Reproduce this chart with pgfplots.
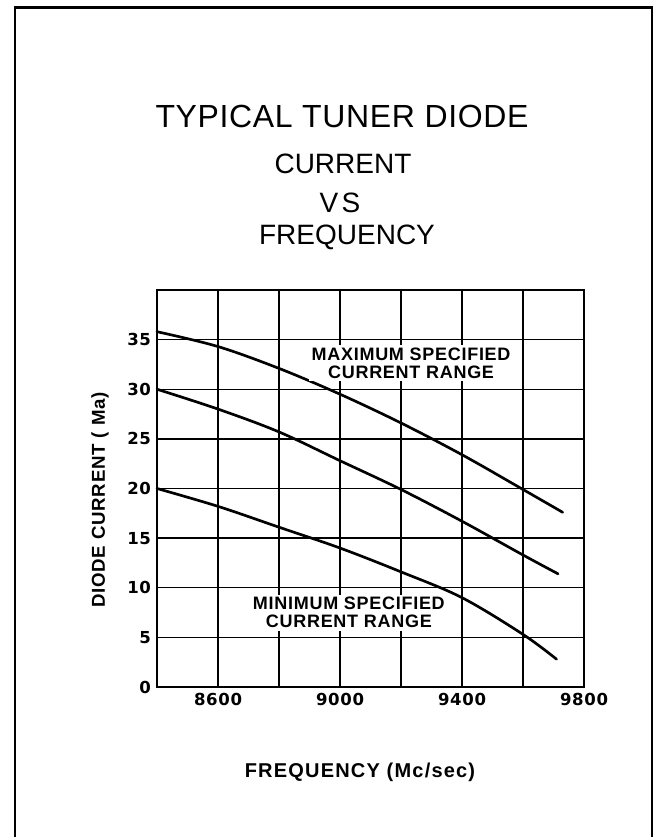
\documentclass[border=0pt]{standalone}
\usepackage{pgfplots}
\pgfplotsset{compat=1.18}
\usepackage{fontspec}
\setmainfont{Liberation Sans}
\newfontfamily\tickfont{DejaVu Sans}

\begin{document}
\begin{tikzpicture}[x=0.75pt,y=0.75pt]
\useasboundingbox (0,0) rectangle (663,837);
% outer frame (open at the bottom)
\draw[line width=1.8pt] (15,-5) -- (15,829.5) -- (652,829.5) -- (652,-5);
% titles
\node[anchor=base,inner sep=0pt] at (342,837-128) {\fontsize{24}{28}\selectfont\addfontfeatures{LetterSpace=2}TYPICAL TUNER DIODE};
\node[anchor=base,inner sep=0pt] at (343,837-174) {\fontsize{21}{24}\selectfont CURRENT};
\node[anchor=base,inner sep=0pt] at (340,837-213) {\fontsize{21}{24}\selectfont\addfontfeatures{LetterSpace=12}VS};
\node[anchor=base,inner sep=0pt] at (347,837-245) {\fontsize{21}{24}\selectfont FREQUENCY};
% axis labels
\node[rotate=90,inner sep=0pt] at (100,837-500) {\fontsize{14}{17}\selectfont\bfseries\addfontfeatures{LetterSpace=4}DIODE CURRENT ( Ma)};
\node[anchor=base,inner sep=0pt] at (360,837-778) {\fontsize{15}{18}\selectfont\bfseries\addfontfeatures{LetterSpace=6}FREQUENCY (Mc/sec)};

\begin{axis}[
  at={(117.75pt,112.5pt)}, anchor=south west,
  scale only axis, width=320.25pt, height=297.75pt,
  xmin=8400, xmax=9800, ymin=0, ymax=40,
  xtick={8600,9000,9400,9800},
  minor xtick={8400,8800,9200,9600},
  ytick={0,5,10,15,20,25,30,35},
  grid=both,
  major grid style={black, line width=1.1pt},
  minor grid style={black, line width=1.1pt},
  major tick length=0pt, minor tick length=0pt,
  axis line style={black, line width=1.5pt},
  /pgf/number format/assume math mode=true,
  /pgf/number format/1000 sep={},
  tick label style={font=\tickfont\fontsize{12.4}{15}\selectfont\bfseries\addfontfeatures{LetterSpace=4}},
  xticklabel style={yshift=-1pt},
  yticklabel style={xshift=-1pt},
  clip=false,
]
\addplot[black, line width=2pt, line cap=round, smooth, tension=0.55] coordinates {
 (8400,35.8) (8600,34.3) (8800,32.1) (9000,29.5) (9200,26.6) (9400,23.4) (9600,19.9) (9730,17.6)};
\addplot[black, line width=2pt, line cap=round, smooth, tension=0.55] coordinates {
 (8400,30.0) (8600,28.0) (8800,25.7) (9000,22.8) (9200,19.9) (9400,16.7) (9600,13.3) (9715,11.4)};
\addplot[black, line width=2pt, line cap=round, smooth, tension=0.55] coordinates {
 (8400,20.0) (8600,18.2) (8800,16.1) (9000,14.0) (9200,11.6) (9400,9.0) (9600,5.3) (9710,2.8)};
\node[fill=white, align=center, inner sep=2pt, font=\fontsize{13.5}{13.5}\selectfont\bfseries\addfontfeatures{LetterSpace=4}] at (axis cs:9233,32.6) {MAXIMUM SPECIFIED\\CURRENT RANGE};
\node[fill=white, align=center, inner sep=2pt, font=\fontsize{13.5}{13.5}\selectfont\bfseries\addfontfeatures{LetterSpace=4}] at (axis cs:9029,7.5) {MINIMUM SPECIFIED\\CURRENT RANGE};
\end{axis}
\end{tikzpicture}
\end{document}
